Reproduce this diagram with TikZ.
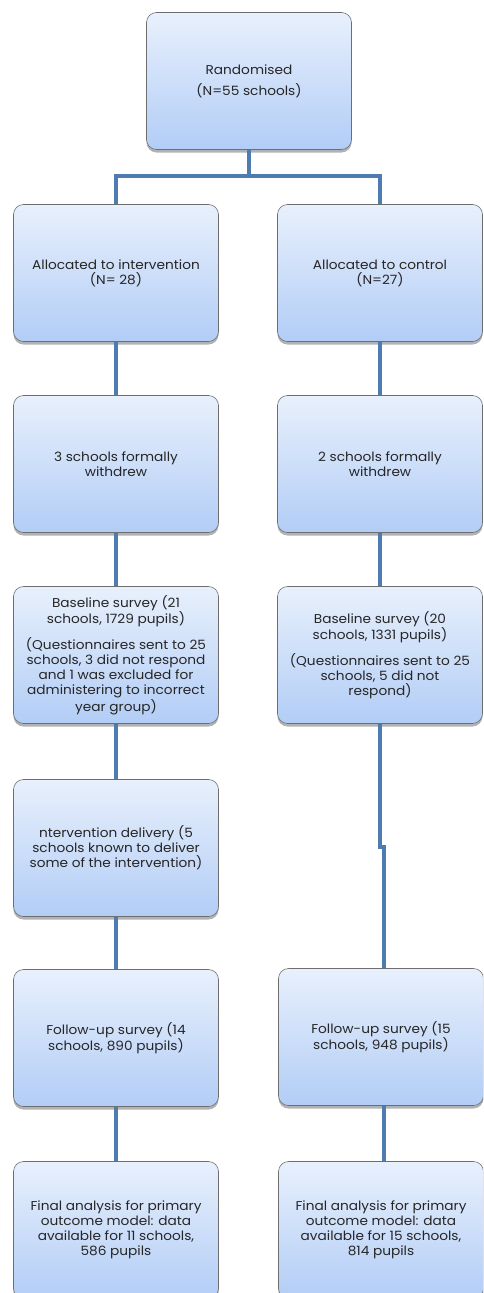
\documentclass[tikz,border=0pt]{standalone}
\usepackage{fontspec}
\setmainfont{Poppins}[FakeStretch=1.07]
\usetikzlibrary{shadows}
\definecolor{boxtop}{HTML}{E8F0FC}
\definecolor{boxbot}{HTML}{B2CDF6}
\definecolor{boxline}{HTML}{6E6E6E}
\definecolor{conn}{HTML}{4E7CB0}
\definecolor{txt}{HTML}{262626}
\begin{document}
\begin{tikzpicture}[x=1pt,y=-1pt,
  box/.style={draw=boxline, line width=0.6pt, rounded corners=10pt,
    top color=boxtop, bottom color=boxbot,
    minimum width=205pt, minimum height=137pt, inner sep=0pt,
    align=center, font=\fontsize{12.8}{15}\selectfont, text=txt,
    drop shadow={shadow xshift=0pt, shadow yshift=-3pt, opacity=0.3, fill=black}},
  link/.style={draw=conn, line width=4pt}]
\clip (0,0) rectangle (483,1293);
\fill[white] (0,0) rectangle (483,1293);

\node[box] (rand) at (249,81) {Randomised\\[6pt](N=55 schools)};
\node[box] (ai) at (116,273) {Allocated to intervention\\(N= 28)};
\node[box] (ac) at (380,273) {Allocated to control\\(N=27)};
\node[box] (wi) at (116,464) {3 schools formally\\withdrew};
\node[box] (wc) at (380,464) {2 schools formally\\withdrew};
\node[box] (bi) at (116,655) {Baseline survey (21\\schools, 1729 pupils)\\[10pt](Questionnaires sent to 25\\schools, 3 did not respond\\and 1 was excluded for\\administering to incorrect\\year group)};
\node[box] (bc) at (380,655) {Baseline survey (20\\schools, 1331 pupils)\\[10pt](Questionnaires sent to 25\\schools, 5 did not\\respond)};
\node[box] (di) at (116,848) {ntervention delivery (5\\schools known to deliver\\some of the intervention)};
\node[box] (fi) at (116,1038) {Follow-up survey (14\\schools, 890 pupils)};
\node[box] (fc) at (381,1037) {Follow-up survey (15\\schools, 948 pupils)};
\node[box] (ei) at (116,1230) {Final analysis for primary\\outcome model: data\\available for 11 schools,\\586 pupils};
\node[box] (ec) at (381,1230) {Final analysis for primary\\outcome model: data\\available for 15 schools,\\814 pupils};

\coordinate (bar) at (249,176);
\coordinate (j1) at (380,847);
\coordinate (j2) at (384,847);

\draw[link] (rand.south) -- (bar);
\draw[link] (ai.north) |- (bar) -| (ac.north);
\draw[link] (ai.south) -- (wi.north);
\draw[link] (ac.south) -- (wc.north);
\draw[link] (wi.south) -- (bi.north);
\draw[link] (wc.south) -- (bc.north);
\draw[link] (bi.south) -- (di.north);
\draw[link] (di.south) -- (fi.north);
\draw[link] (fi.south) -- (ei.north);
\draw[link] (bc.south) -- (j1) -- (j2) -- (j2 |- fc.north);
\draw[link] (j2 |- fc.south) -- (j2 |- ec.north);
\end{tikzpicture}
\end{document}
